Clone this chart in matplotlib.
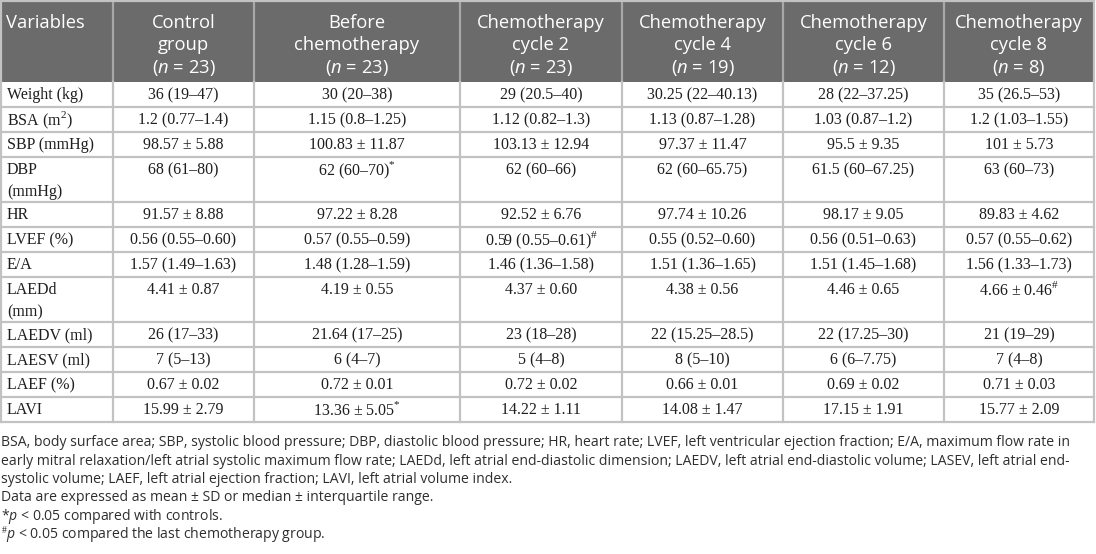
import matplotlib
matplotlib.use("Agg")
import matplotlib.pyplot as plt
from matplotlib.patches import Rectangle

plt.rcParams["mathtext.fontset"] = "custom"
plt.rcParams["mathtext.rm"] = "Liberation Serif"
plt.rcParams["mathtext.it"] = "Open Sans:italic"

# ---- table data ----
groups = ["Control\ngroup", "Before\nchemotherapy", "Chemotherapy\ncycle 2",
          "Chemotherapy\ncycle 4", "Chemotherapy\ncycle 6", "Chemotherapy\ncycle 8"]
group_n = [23, 23, 23, 19, 12, 8]

variables = ["Weight (kg)", "BSA (m$^{2}$)", "SBP (mmHg)", "DBP\n(mmHg)", "HR",
             "LVEF (%)", "E/A", "LAEDd\n(mm)", "LAEDV (ml)", "LAESV (ml)",
             "LAEF (%)", "LAVI"]

control = ["36 (19–47)", "1.2 (0.77–1.4)", "98.57 ± 5.88", "68 (61–80)",
           "91.57 ± 8.88", "0.56 (0.55–0.60)", "1.57 (1.49–1.63)", "4.41 ± 0.87",
           "26 (17–33)", "7 (5–13)", "0.67 ± 0.02", "15.99 ± 2.79"]
before = ["30 (20–38)", "1.15 (0.8–1.25)", "100.83 ± 11.87", "62 (60–70)$^{*}$",
          "97.22 ± 8.28", "0.57 (0.55–0.59)", "1.48 (1.28–1.59)", "4.19 ± 0.55",
          "21.64 (17–25)", "6 (4–7)", "0.72 ± 0.01", "13.36 ± 5.05$^{*}$"]
cycle2 = ["29 (20.5–40)", "1.12 (0.82–1.3)", "103.13 ± 12.94", "62 (60–66)",
          "92.52 ± 6.76", "0.59 (0.55–0.61)$^{\\#}$", "1.46 (1.36–1.58)", "4.37 ± 0.60",
          "23 (18–28)", "5 (4–8)", "0.72 ± 0.02", "14.22 ± 1.11"]
cycle4 = ["30.25 (22–40.13)", "1.13 (0.87–1.28)", "97.37 ± 11.47", "62 (60–65.75)",
          "97.74 ± 10.26", "0.55 (0.52–0.60)", "1.51 (1.36–1.65)", "4.38 ± 0.56",
          "22 (15.25–28.5)", "8 (5–10)", "0.66 ± 0.01", "14.08 ± 1.47"]
cycle6 = ["28 (22–37.25)", "1.03 (0.87–1.2)", "95.5 ± 9.35", "61.5 (60–67.25)",
          "98.17 ± 9.05", "0.56 (0.51–0.63)", "1.51 (1.45–1.68)", "4.46 ± 0.65",
          "22 (17.25–30)", "6 (6–7.75)", "0.69 ± 0.02", "17.15 ± 1.91"]
cycle8 = ["35 (26.5–53)", "1.2 (1.03–1.55)", "101 ± 5.73", "63 (60–73)",
          "89.83 ± 4.62", "0.57 (0.55–0.62)", "1.56 (1.33–1.73)", "4.66 ± 0.46$^{\\#}$",
          "21 (19–29)", "7 (4–8)", "0.71 ± 0.03", "15.77 ± 2.09"]
columns = [control, before, cycle2, cycle4, cycle6, cycle8]

footnotes = [
    "BSA, body surface area; SBP, systolic blood pressure; DBP, diastolic blood pressure; HR, heart rate; LVEF, left ventricular ejection fraction; E/A, maximum flow rate in",
    "early mitral relaxation/left atrial systolic maximum flow rate; LAEDd, left atrial end-diastolic dimension; LAEDV, left atrial end-diastolic volume; LASEV, left atrial end-",
    "systolic volume; LAEF, left atrial ejection fraction; LAVI, left atrial volume index.",
    "Data are expressed as mean ± SD or median ± interquartile range.",
    "*$\\mathit{p}$ < 0.05 compared with controls.",
    "$^{\\#}$$\\mathit{p}$ < 0.05 compared the last chemotherapy group.",
]

# ---- layout (pixels) ----
W, H = 1096, 554
col_x = [1, 113, 254, 460, 622, 783, 944, 1094]
header_h = 82
unit_h = 25
double_h = 45

fig = plt.figure(figsize=(W / 100, H / 100), dpi=100)
ax = fig.add_axes([0, 0, 1, 1])
ax.set_xlim(0, W)
ax.set_ylim(H, 0)
ax.axis("off")

header_bg = "#6b6b6b"
grid_c = "#c2c2c2"
text_c = "#1e1e1e"

# header
ax.add_patch(Rectangle((col_x[0], 1), col_x[-1] - col_x[0], header_h - 1,
                       facecolor=header_bg, edgecolor="none"))
for x in col_x[1:-1]:
    ax.plot([x, x], [1, header_h], color="#a8a8a8", lw=1.6)

hfont = dict(family="Open Sans", fontsize=13.2, color="white")
ax.text(col_x[0] + 5, 23, "Variables", ha="left", va="center", **hfont)
for i, (g, n) in enumerate(zip(groups, group_n)):
    cx = (col_x[i + 1] + col_x[i + 2]) / 2
    lines = g.split("\n") + ["($\\mathit{n}$ = %d)" % n]
    for k, line in enumerate(lines):
        ax.text(cx, 23 + k * 22.5, line, ha="center", va="center", **hfont)

# body rows
bfont = dict(family="Liberation Serif", fontsize=11.5, color=text_c)
y = header_h
row_lines = [y]
for r, var in enumerate(variables):
    two = "\n" in var
    h = double_h if two else unit_h
    if two:
        top, bottom = var.split("\n")
        ax.text(col_x[0] + 6, y + 13, top, ha="left", va="center", **bfont)
        ax.text(col_x[0] + 6, y + 35, bottom, ha="left", va="center", **bfont)
        ty = y + 13
    else:
        ty = y + h / 2 + 0.5
        ax.text(col_x[0] + 6, ty, var, ha="left", va="center", **bfont)
    for c, vals in enumerate(columns):
        cx = (col_x[c + 1] + col_x[c + 2]) / 2
        ax.text(cx, ty, vals[r], ha="center", va="center", **bfont)
    y += h
    row_lines.append(y)

for yl in row_lines[1:]:
    ax.plot([col_x[0], col_x[-1]], [yl, yl], color=grid_c, lw=1.6)
for x in col_x:
    ax.plot([x, x], [header_h, row_lines[-1]], color=grid_c, lw=1.6)
ax.plot([col_x[0], col_x[0]], [1, header_h], color=grid_c, lw=1.6)
ax.plot([col_x[-1], col_x[-1]], [1, header_h], color=grid_c, lw=1.6)
ax.plot([col_x[0], col_x[-1]], [1, 1], color=grid_c, lw=1.6)

# footnotes
ffont = dict(family="Open Sans", fontsize=10.1, color="#2e2e2e")
fy = row_lines[-1] + 21
for k, line in enumerate(footnotes):
    ax.text(col_x[0], fy + k * 18.3, line, ha="left", va="center", **ffont)

fig.savefig("out.png", dpi=100)
